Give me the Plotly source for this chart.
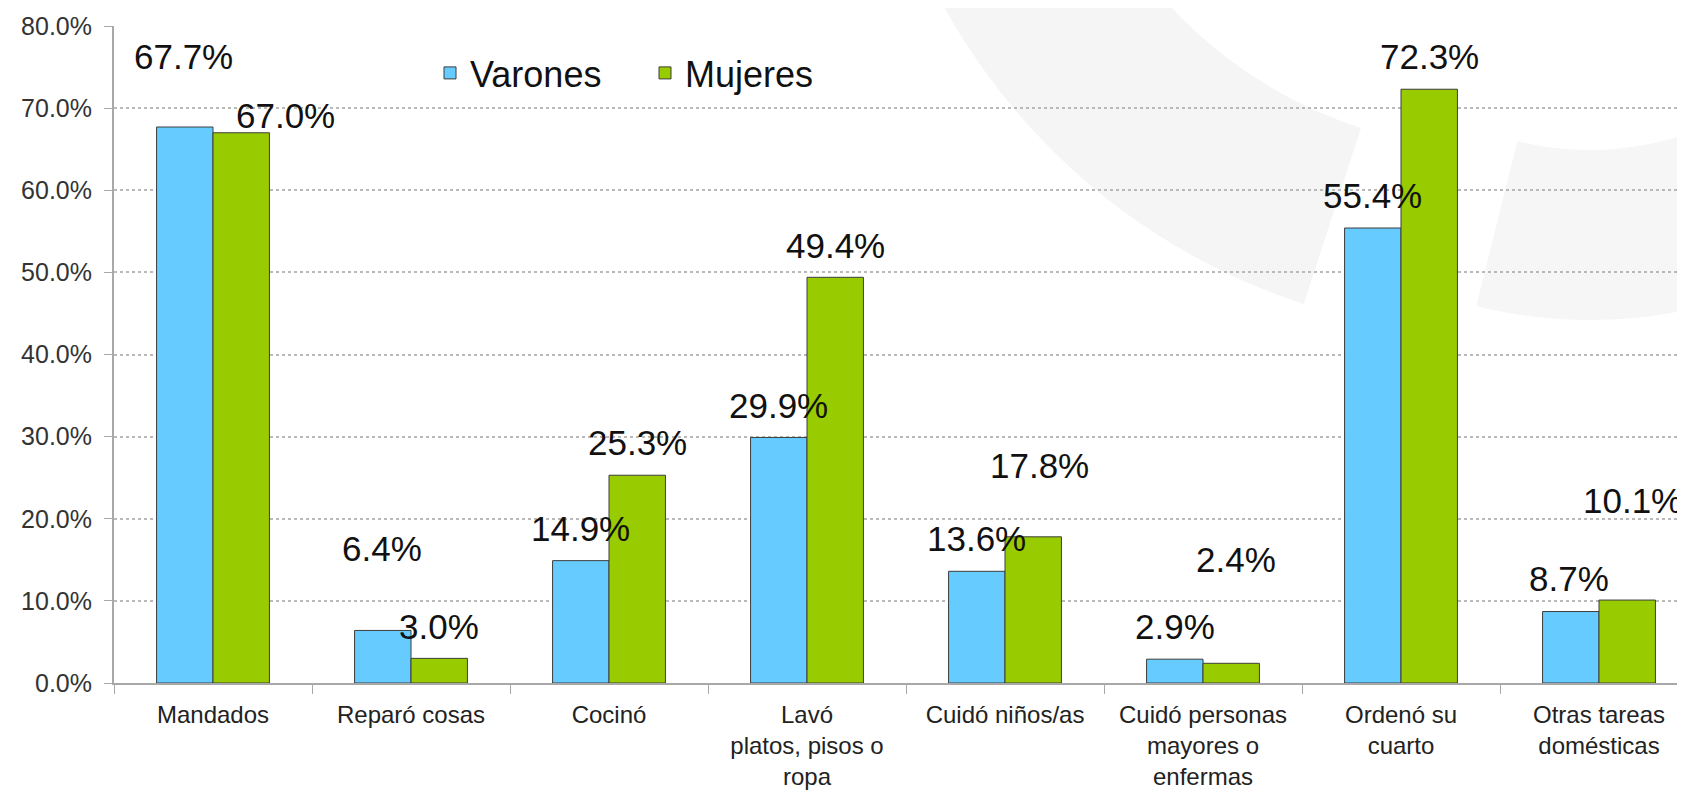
import math
import plotly.graph_objects as go

# ---------------- data ----------------
categories = [
    "Mandados",
    "Reparó cosas",
    "Cocinó",
    "Lavó<br>platos, pisos o<br>ropa",
    "Cuidó niños/as",
    "Cuidó personas<br>mayores o<br>enfermas",
    "Ordenó su<br>cuarto",
    "Otras tareas<br>domésticas",
]
varones = [67.7, 6.4, 14.9, 29.9, 13.6, 2.9, 55.4, 8.7]
mujeres = [67.0, 3.0, 25.3, 49.4, 17.8, 2.4, 72.3, 10.1]
y_ticks = [0, 10, 20, 30, 40, 50, 60, 70, 80]
y_tick_labels = ["0.0%", "10.0%", "20.0%", "30.0%", "40.0%", "50.0%", "60.0%", "70.0%", "80.0%"]

# -------------- label placement (pixels above bar top / sideways) --------------
dy_varones = [71, 82, 32, 32, 33, 33, 33, 33]
dy_mujeres = [17, 32, 33, 32, 71, 104, 33, 100]
dx_varones = [-1, -1, 0, 0, 0, 0, 0, -2]
dx_mujeres = [44, 0, 0, 0, 6, 5, 0, 5]

# -------------- layout geometry --------------
# the page body has an 8px default margin, so the figure is made 8px smaller
OFF = 8
W, H = 1685 - OFF, 795 - OFF
ML, MR, MT = 114 - OFF, 0, 26 - OFF
MB = H - (683 - OFF)
PW, PH = W - ML - MR, H - MT - MB
CAT_PX = 198.0
x_max = -0.5 + PW / CAT_PX
BAR_OFF = CAT_PX * 0.57 / 4.0

FONT = "Liberation Sans, Arial, sans-serif"
BLUE = "#66CCFF"
GREEN = "#99CC00"
EDGE = "#3c3c3c"
AXIS = "#a8a8a8"

fig = go.Figure()
fig.add_trace(go.Bar(name="Varones", x=categories, y=varones,
                     marker=dict(color=BLUE, line=dict(color=EDGE, width=1))))
fig.add_trace(go.Bar(name="Mujeres", x=categories, y=mujeres,
                     marker=dict(color=GREEN, line=dict(color=EDGE, width=1))))

annotations = []
for i, c in enumerate(categories):
    annotations.append(dict(x=c, y=varones[i], xref="x", yref="y",
                            text=f"{varones[i]:.1f}%", showarrow=False,
                            xshift=-BAR_OFF + dx_varones[i], yshift=dy_varones[i],
                            yanchor="middle", xanchor="center",
                            font=dict(family=FONT, size=35, color="#111111")))
    annotations.append(dict(x=c, y=mujeres[i], xref="x", yref="y",
                            text=f"{mujeres[i]:.1f}%", showarrow=False,
                            xshift=BAR_OFF + dx_mujeres[i], yshift=dy_mujeres[i],
                            yanchor="middle", xanchor="center",
                            font=dict(family=FONT, size=35, color="#111111")))


# faint background watermark (decorative annular bands), page pixel coords
def px2paper(px, py):
    return (px - OFF - ML) / PW, (H - MB - (py - OFF)) / PH


def ring_path(cx, cy, r1, r2, a0, a1, n=60):
    pts = []
    for k in range(n + 1):
        a = math.radians(a0 + (a1 - a0) * k / n)
        pts.append(px2paper(cx + r2 * math.cos(a), cy + r2 * math.sin(a)))
    for k in range(n + 1):
        a = math.radians(a1 - (a1 - a0) * k / n)
        pts.append(px2paper(cx + r1 * math.cos(a), cy + r1 * math.sin(a)))
    return "M " + " L ".join(f"{x:.5f},{y:.5f}" for x, y in pts) + " Z"


shapes = [
    dict(type="path", xref="paper", yref="paper", layer="below",
         path=ring_path(1500, -300, 450, 635, 108, 165),
         fillcolor="#f5f5f5", line=dict(width=0)),
    dict(type="path", xref="paper", yref="paper", layer="below",
         path=ring_path(1590, -150, 300, 470, 20, 104),
         fillcolor="#f6f6f6", line=dict(width=0)),
]

lx, ly = px2paper(430, 43)

fig.update_layout(
    width=W, height=H,
    margin=dict(l=ML, r=MR, t=MT, b=MB, pad=0),
    paper_bgcolor="white", plot_bgcolor="rgba(0,0,0,0)",
    barmode="group", bargap=0.43, bargroupgap=0,
    font=dict(family=FONT, color="#222222"),
    legend=dict(orientation="h", x=lx, xanchor="left", y=ly, yanchor="top",
                font=dict(family=FONT, size=36, color="#111111"),
                bgcolor="rgba(0,0,0,0)", entrywidth=170, traceorder="normal"),
    annotations=annotations,
    shapes=shapes,
    xaxis=dict(range=[-0.5, x_max], showline=True, linecolor=AXIS, linewidth=2,
               ticks="outside", tickson="boundaries", ticklen=9, tickcolor=AXIS,
               tickwidth=1, showgrid=False, automargin=False, ticklabelstandoff=9,
               tickfont=dict(family=FONT, size=24, color="#222222")),
    yaxis=dict(range=[0, 80], tickvals=y_ticks, ticktext=y_tick_labels,
               showline=True, linecolor=AXIS, linewidth=2, ticks="outside",
               ticklen=8, tickcolor=AXIS, tickwidth=1, automargin=False,
               showgrid=True, gridcolor="#b9b9b9", griddash="dot", gridwidth=2,
               zeroline=False, ticklabelstandoff=7,
               tickfont=dict(family=FONT, size=25, color="#333333")),
)

fig.write_html("out.html")
